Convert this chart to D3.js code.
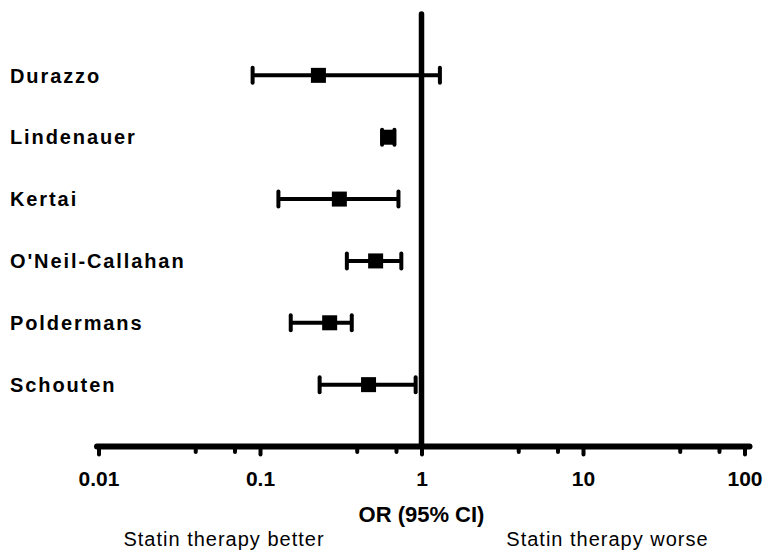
<!DOCTYPE html>
<html>
<head>
<meta charset="utf-8">
<script src="https://cdn.jsdelivr.net/npm/d3@7"></script>
<style>
  html, body { margin: 0; padding: 0; background: #fff; }
  svg { display: block; }
  text { font-family: Arial, "Liberation Sans", Helvetica, sans-serif; fill: #000; }
</style>
</head>
<body>
<svg id="chart" width="763" height="551"></svg>
<script>
// Studies and their odds ratios with 95% confidence intervals
const studies = ["Durazzo", "Lindenauer", "Kertai", "O'Neil-Callahan", "Poldermans", "Schouten"];
const oddsRatio = [0.23, 0.62, 0.31, 0.52, 0.27, 0.47];
const ciLower   = [0.09, 0.57, 0.13, 0.345, 0.155, 0.234];
const ciUpper   = [1.30, 0.68, 0.72, 0.75, 0.37, 0.92];

const majorTicks = [0.01, 0.1, 1, 10, 100];
const majorTickLabels = ["0.01", "0.1", "1", "10", "100"];
const minorTicks = [0.04, 0.07, 0.4, 0.7, 4, 7, 40, 70];

const axisTitle = "OR (95% CI)";
const leftNote = "Statin therapy better";
const rightNote = "Statin therapy worse";

const svg = d3.select("#chart");

const x = d3.scaleLog().domain([0.01, 100]).range([98.5, 744.5]);
const y = d3.scaleLinear().domain([0, studies.length + 1]).range([13.5, 446.5]);
const axisY = y(studies.length + 1);

// Line of no effect (OR = 1)
svg.append("line")
  .attr("x1", x(1)).attr("x2", x(1))
  .attr("y1", 14).attr("y2", axisY)
  .attr("stroke", "#000").attr("stroke-width", 5.5)
  .attr("stroke-linecap", "round");

// Horizontal OR axis
const axisG = svg.append("g").attr("transform", `translate(0,${axisY})`);
axisG.append("line")
  .attr("x1", x(0.01) - 1.5).attr("x2", x(100) + 5)
  .attr("y1", 0).attr("y2", 0)
  .attr("stroke", "#000").attr("stroke-width", 6)
  .attr("stroke-linecap", "round");

const axis = d3.axisBottom(x)
  .tickValues(majorTicks)
  .tickFormat((d, i) => majorTickLabels[i])
  .tickSize(8)
  .tickPadding(17);
const ag = axisG.append("g").call(axis);
ag.select(".domain").remove();
ag.selectAll(".tick line")
  .attr("stroke", "#000").attr("stroke-width", 4)
  .attr("stroke-linecap", "round");
ag.selectAll(".tick text")
  .style("font-family", "Arial, 'Liberation Sans', sans-serif")
  .style("font-size", "21px")
  .style("font-weight", "bold")
  .attr("fill", "#000");

axisG.selectAll(".minor")
  .data(minorTicks)
  .join("line")
  .attr("class", "minor")
  .attr("x1", d => x(d)).attr("x2", d => x(d))
  .attr("y1", 0).attr("y2", 5.5)
  .attr("stroke", "#000").attr("stroke-width", 4)
  .attr("stroke-linecap", "round");

// Study rows
const rows = svg.append("g").selectAll("g.row")
  .data(studies.map((name, i) => ({ name, or: oddsRatio[i], lo: ciLower[i], hi: ciUpper[i], i })))
  .join("g")
  .attr("class", "row")
  .attr("transform", d => `translate(0,${y(d.i + 1)})`);

rows.append("text")
  .attr("x", 10).attr("y", 0).attr("dy", "0.36em")
  .style("font-size", "20px")
  .style("font-weight", "bold")
  .style("letter-spacing", "1.9px")
  .text(d => d.name);

rows.append("line")
  .attr("x1", d => x(d.lo)).attr("x2", d => x(d.hi))
  .attr("y1", 0).attr("y2", 0)
  .attr("stroke", "#000").attr("stroke-width", 4);

rows.selectAll("line.cap")
  .data(d => [d.lo, d.hi])
  .join("line")
  .attr("class", "cap")
  .attr("x1", v => x(v)).attr("x2", v => x(v))
  .attr("y1", -7.5).attr("y2", 7.5)
  .attr("stroke", "#000").attr("stroke-width", 4)
  .attr("stroke-linecap", "round");

rows.append("rect")
  .attr("x", d => x(d.or) - 7.5).attr("y", -7.5)
  .attr("width", 15).attr("height", 15)
  .attr("fill", "#000");

// Axis title and direction notes
svg.append("text")
  .attr("x", x(1)).attr("y", 521.5)
  .attr("text-anchor", "middle")
  .style("font-size", "22px")
  .style("font-weight", "bold")
  .text(axisTitle);

svg.append("text")
  .attr("x", 224).attr("y", 546)
  .attr("text-anchor", "middle")
  .style("font-size", "20px")
  .style("letter-spacing", "1px")
  .attr("fill", "#111")
  .text(leftNote);

svg.append("text")
  .attr("x", 607.5).attr("y", 546)
  .attr("text-anchor", "middle")
  .style("font-size", "20px")
  .style("letter-spacing", "1px")
  .attr("fill", "#111")
  .text(rightNote);
</script>
</body>
</html>
